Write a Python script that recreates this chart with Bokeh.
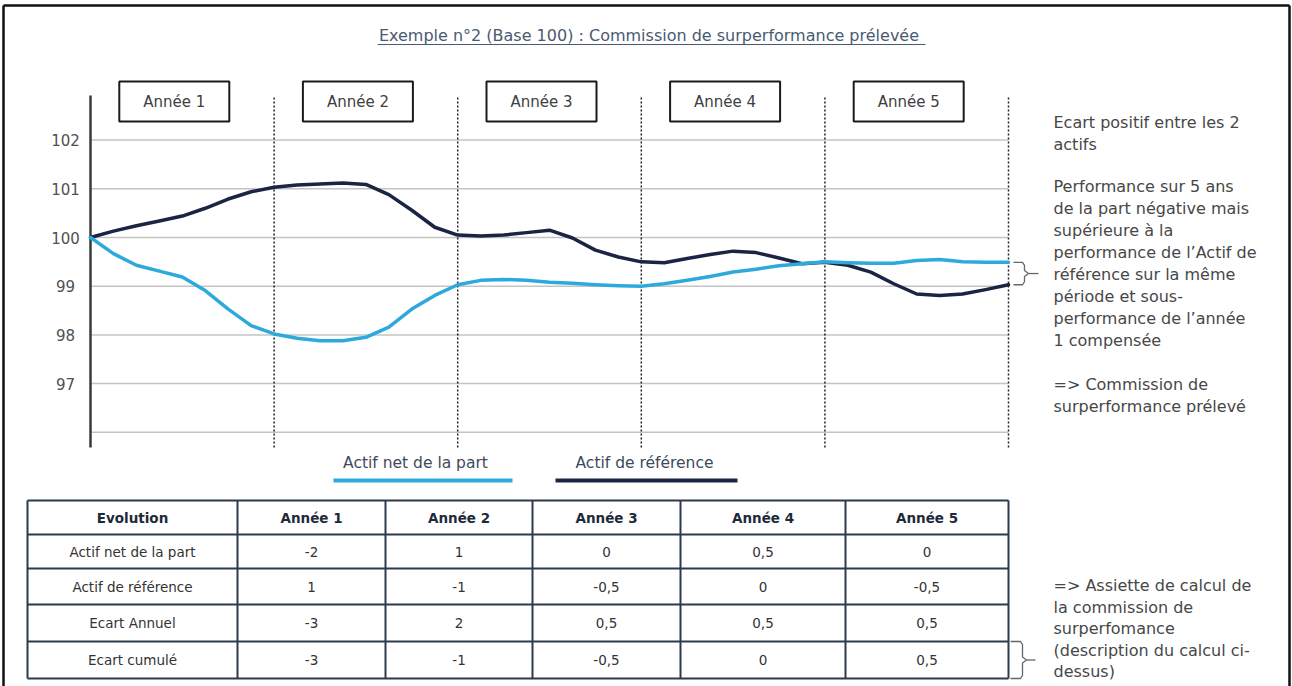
from bokeh.plotting import figure
from bokeh.models import Range1d
from bokeh.core.properties import value
from bokeh.embed import file_html
from bokeh.resources import INLINE

# ---------------- data ----------------
title_text = "Exemple  n°2 (Base 100) : Commission de surperformance prélevée"
year_labels = ["Année 1", "Année 2", "Année 3", "Année 4", "Année 5"]
series_names = ["Actif net de la part", "Actif de référence"]

years = [0, 0.125, 0.25, 0.375, 0.5, 0.625, 0.75, 0.875,
         1, 1.125, 1.25, 1.375, 1.5, 1.625, 1.75, 1.875,
         2, 2.125, 2.25, 2.375, 2.5, 2.625, 2.75, 2.875,
         3, 3.125, 3.25, 3.375, 3.5, 3.625, 3.75, 3.875,
         4, 4.125, 4.25, 4.375, 4.5, 4.625, 4.75, 4.875, 5]
actif_net = [100.0, 99.67, 99.43, 99.31, 99.19, 98.91, 98.53, 98.19,
             98.02, 97.93, 97.88, 97.88, 97.95, 98.16, 98.53, 98.81,
             99.03, 99.12, 99.14, 99.12, 99.08, 99.06, 99.03, 99.01,
             99.0, 99.05, 99.12, 99.2, 99.29, 99.35, 99.42, 99.46,
             99.5, 99.48, 99.47, 99.47, 99.53, 99.55, 99.5, 99.49, 99.49]
actif_ref = [100.0, 100.13, 100.24, 100.34, 100.44, 100.6, 100.79, 100.94,
             101.03, 101.08, 101.1, 101.12, 101.09, 100.88, 100.56, 100.21,
             100.05, 100.03, 100.05, 100.1, 100.15, 99.99, 99.74, 99.6,
             99.5, 99.48, 99.57, 99.65, 99.72, 99.69, 99.58, 99.46,
             99.49, 99.43, 99.29, 99.05, 98.84, 98.81, 98.84, 98.93, 99.03]

y_ticks = [97, 98, 99, 100, 101, 102]
grid_values = [96, 97, 98, 99, 100, 101, 102]

table_header = ["Evolution", "Année 1", "Année 2", "Année 3", "Année 4", "Année 5"]
table_row_names = ["Actif net de la part", "Actif de référence", "Ecart Annuel", "Ecart cumulé"]
evol_net = [-2, 1, 0, 0.5, 0]
evol_ref = [1, -1, -0.5, 0, -0.5]
ecart_annuel = [-3, 2, 0.5, 0.5, 0.5]
ecart_cumule = [-3, -1, -0.5, 0, 0.5]

note_top = ["Ecart positif entre les 2", "actifs", "",
            "Performance sur 5 ans", "de la part négative  mais", "supérieure à la",
            "performance de l’Actif de", "référence sur la même", "période et sous-",
            "performance de l’année", "1 compensée", "",
            "=> Commission de", "surperformance prélevé"]
note_bottom = ["=> Assiette de calcul de", "la commission de", "surperfomance",
               "(description du calcul ci-", "dessus)"]

# ---------------- styling / layout ----------------
W, H = 1292, 686
FONT = value("DejaVu Sans")
LIGHT = "#2ea9dc"
DARK = "#1c2444"
TXT = "#404040"
TITLE_C = "#4a5a70"

X0, XS = 90, 183.6      # x of year 0, pixels per year
Y100, YS = 237, 48.7    # y of value 100, pixels per unit


def val(py):
    return 100 - (py - Y100) / YS


p = figure(width=W, height=H, x_range=Range1d(0, W), y_range=Range1d(H, 0),
           output_backend="svg", toolbar_location=None, tools="", min_border=0,
           x_axis_location=None, y_axis_location=None)
p.xgrid.visible = False
p.ygrid.visible = False
p.outline_line_color = None
p.background_fill_color = "white"
p.border_fill_color = "white"

p.extra_x_ranges = {"yr": Range1d(start=(0 - X0) / XS, end=(W - X0) / XS)}
p.extra_y_ranges = {"val": Range1d(start=100 - (H - Y100) / YS, end=100 + Y100 / YS)}

n_years = len(year_labels)
ax_top, ax_bot = val(95), val(447)

# outer frame (top, left, right)
p.segment(x0=[3, 3, 1289], y0=[5, 5, 5], x1=[1289, 3, 1289], y1=[5, H, H],
          line_color="#111111", line_width=2.5)

# title
p.text(x=[651], y=[35], text=[title_text], text_font=FONT, text_font_size="16px",
       text_color=TITLE_C, text_align="center", text_baseline="middle")
p.segment(x0=[377], y0=[44], x1=[925], y1=[44], line_color=TITLE_C, line_width=1)

# gridlines
p.segment(x0=[0] * len(grid_values), x1=[n_years] * len(grid_values), y0=grid_values, y1=grid_values,
          x_range_name="yr", y_range_name="val", line_color="#c4c4c4", line_width=1.5)
# y axis line
p.segment(x0=[0], x1=[0], y0=[ax_bot], y1=[ax_top], x_range_name="yr", y_range_name="val",
          line_color="#3a3a3a", line_width=2.5)
# dotted year separators
sep = list(range(1, n_years + 1))
p.segment(x0=sep, x1=sep, y0=[ax_bot] * n_years, y1=[ax_top] * n_years,
          x_range_name="yr", y_range_name="val", line_color="#222222", line_width=1.5,
          line_dash="2 2")
# tick labels
p.text(x=[0] * len(y_ticks), y=y_ticks, text=[str(t) for t in y_ticks], x_offset=-25,
       x_range_name="yr", y_range_name="val", text_font=FONT, text_font_size="15px",
       text_color="#505050", text_align="center", text_baseline="middle")

# year boxes
box_x = [k + 0.5 - 8 / XS for k in range(n_years)]
p.rect(x=box_x, y=[101] * n_years, width=110, height=40, width_units="screen",
       height_units="screen", x_range_name="yr", fill_color="white", line_color="#1a1a1a",
       line_width=2)
p.text(x=box_x, y=[101] * n_years, text=year_labels, x_range_name="yr", text_font=FONT,
       text_font_size="15px", text_color=TXT, text_align="center", text_baseline="middle")

# series lines
p.line(years, actif_ref, x_range_name="yr", y_range_name="val", line_color=DARK, line_width=3.5,
       line_join="round", line_cap="round")
p.line(years, actif_net, x_range_name="yr", y_range_name="val", line_color=LIGHT, line_width=3.5,
       line_join="round", line_cap="round")

# brace on the right of the chart (spanning final values)
by_top = Y100 - (actif_net[-1] - 100) * YS
by_bot = Y100 - (actif_ref[-1] - 100) * YS
mid = (by_top + by_bot) / 2
bx = [1013, 1022, 1024, 1024, 1028, 1024, 1024, 1022, 1013]
by = [by_top, by_top, by_top + 3, mid - 3, mid, mid + 3, by_bot - 3, by_bot, by_bot]
p.line(bx, by, line_color="#666666", line_width=1.3)
p.segment(x0=[1028], y0=[mid], x1=[1038], y1=[mid], line_color="#666666", line_width=1.3)

# right text
p.text(x=[1053] * len(note_top),
       y=[122 + 22 * i if i < 3 else 186 + 22 * (i - 3) if i < 12 else 384 + 22 * (i - 12)
          for i in range(len(note_top))],
       text=note_top, text_font=FONT, text_font_size="16px", text_color="#474747",
       text_align="left", text_baseline="middle")

# legend
leg_lines_x = [(333, 512), (555, 737)]
leg_text_x = [415, 644]
for (xa, xb), tx, name, col in zip(leg_lines_x, leg_text_x, series_names, [LIGHT, DARK]):
    p.segment(x0=[xa], y0=[480], x1=[xb], y1=[480], line_color=col, line_width=4)
    p.text(x=[tx], y=[462], text=[name], text_font=FONT, text_font_size="15.5px",
           text_color="#3e4a5c", text_align="center", text_baseline="middle")

# table
col_x = [27, 237, 385, 532, 680, 845, 1008]
row_y = [500, 534, 568, 604, 641, 678]
TL = "#2b3b4d"
p.segment(x0=col_x, x1=col_x, y0=[row_y[0]] * len(col_x), y1=[row_y[-1]] * len(col_x),
          line_color=TL, line_width=2)
p.segment(x0=[col_x[0]] * len(row_y), x1=[col_x[-1]] * len(row_y), y0=row_y, y1=row_y,
          line_color=TL, line_width=2)
cx = [(a + b) / 2 for a, b in zip(col_x[:-1], col_x[1:])]
cy = [(a + b) / 2 for a, b in zip(row_y[:-1], row_y[1:])]
p.text(x=cx, y=[cy[0]] * len(cx), text=table_header, text_font=FONT, text_font_size="13.5px",
       text_font_style="bold", text_color="#1e2a38", text_align="center", text_baseline="middle")


def fmt(v):
    return f"{v:g}".replace(".", ",")


rows = [evol_net, evol_ref, ecart_annuel, ecart_cumule]
for r, (name, vals) in enumerate(zip(table_row_names, rows)):
    p.text(x=cx, y=[cy[r + 1]] * len(cx), text=[name] + [fmt(v) for v in vals], text_font=FONT,
           text_font_size="13.5px", text_color="#333333", text_align="center", text_baseline="middle")

# bottom brace (Ecart cumulé row)
t0, t1 = row_y[4], row_y[5]
m2 = (t0 + t1) / 2
p.line([1010, 1020, 1022, 1022, 1026, 1022, 1022, 1020, 1010],
       [t0, t0, t0 + 3, m2 - 3, m2, m2 + 3, t1 - 3, t1, t1], line_color="#666666", line_width=1.3)
p.segment(x0=[1026], y0=[m2], x1=[1035], y1=[m2], line_color="#666666", line_width=1.3)

p.text(x=[1053] * len(note_bottom), y=[585 + 21.5 * i for i in range(len(note_bottom))],
       text=note_bottom, text_font=FONT, text_font_size="16px", text_color="#474747",
       text_align="left", text_baseline="middle")

open("out.html", "w").write(file_html(p, INLINE))
